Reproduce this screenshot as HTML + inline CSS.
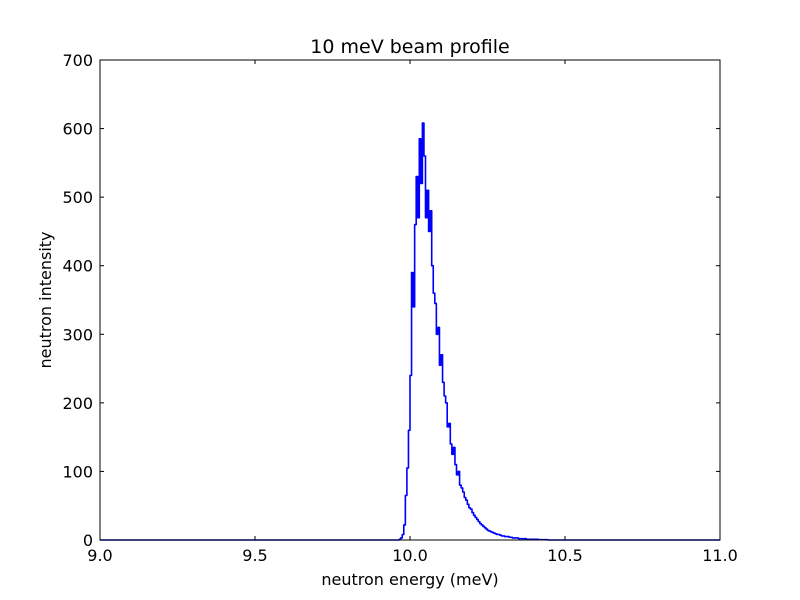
<!DOCTYPE html>
<html><head><meta charset="utf-8"><style>
body{margin:0;background:#fff;}
svg{display:block;font-family:"DejaVu Sans","Liberation Sans",sans-serif;}
</style></head><body>
<svg id="chart" width="800" height="600">
<rect width="800" height="600" fill="#fff"/>
<text x="410" y="53" text-anchor="middle" font-size="19">10 meV beam profile</text>
<text x="410" y="585" text-anchor="middle" font-size="16">neutron energy (meV)</text>
<text transform="translate(51,300) rotate(-90)" text-anchor="middle" font-size="16">neutron intensity</text>
<g id="ticks"></g>
<path id="series" fill="none" stroke="#0000ff" stroke-width="1.6" stroke-linejoin="round"/>
<rect x="100" y="60" width="620" height="480" fill="none" stroke="#000" stroke-width="1"/>
</svg>
<script>
const xTicks = [9.0, 9.5, 10.0, 10.5, 11.0];
const xTickLabels = ["9.0", "9.5", "10.0", "10.5", "11.0"];
const yTicks = [0, 100, 200, 300, 400, 500, 600, 700];
const yTickLabels = ["0", "100", "200", "300", "400", "500", "600", "700"];
const binStart = 9.955;
const binWidth = 0.005;
const intensity = [0,0,1,3,8,22,65,105,160,240,390,340,460,530,470,585,520,608,560,470,510,450,480,400,360,345,300,310,255,270,230,210,200,165,170,140,125,135,110,95,100,80,76,70,62,58,52,47,45,40,36,33,30,27,24,22,20,18,16,14,13,12,11,10,9,8,8,7,6,6,5,5,5,4,4,3,3,3,3,2,2,2,2,2,1,1,1,1,1,1,1,1,0.5,0.5,0.5,0.5,0.5,0.5,0,0];
const xMin=9, xMax=11, yMin=0, yMax=700;
const X=v=>100+(v-xMin)/(xMax-xMin)*620;
const Y=v=>540-(v-yMin)/(yMax-yMin)*480;
const NS="http://www.w3.org/2000/svg";
const g=document.getElementById('ticks');
function mk(tag,attrs){const e=document.createElementNS(NS,tag);for(const k in attrs)e.setAttribute(k,attrs[k]);g.appendChild(e);return e;}
xTicks.forEach((t,i)=>{
  const x=X(t);
  const a=mk('line',{x1:x,x2:x,y1:540,y2:536,stroke:'#000'});
  
  
  const b=mk('line',{x1:x,x2:x,y1:60,y2:64,stroke:'#000'});
  
  
  const l=mk('text',{x:x,y:561,'text-anchor':'middle','font-size':16});
  l.textContent=xTickLabels[i];
  
  
});
yTicks.forEach((t,i)=>{
  const y=Y(t);
  const a=mk('line',{x1:100,x2:104,y1:y,y2:y,stroke:'#000'});
  
  
  const b=mk('line',{x1:716,x2:720,y1:y,y2:y,stroke:'#000'});
  
  
  const l=mk('text',{x:93,y:y+6,'text-anchor':'end','font-size':16});
  l.textContent=yTickLabels[i];
  
  
});
let d='M'+X(xMin)+','+Y(0)+' L'+X(binStart)+','+Y(0);
intensity.forEach((v,i)=>{
  const e0=binStart+i*binWidth, e1=e0+binWidth;
  d+=' L'+X(e0).toFixed(2)+','+Y(v).toFixed(2)+' L'+X(e1).toFixed(2)+','+Y(v).toFixed(2);
});
d+=' L'+X(xMax)+','+Y(0);
document.getElementById('series').setAttribute('d',d);
</script>
</body></html>
